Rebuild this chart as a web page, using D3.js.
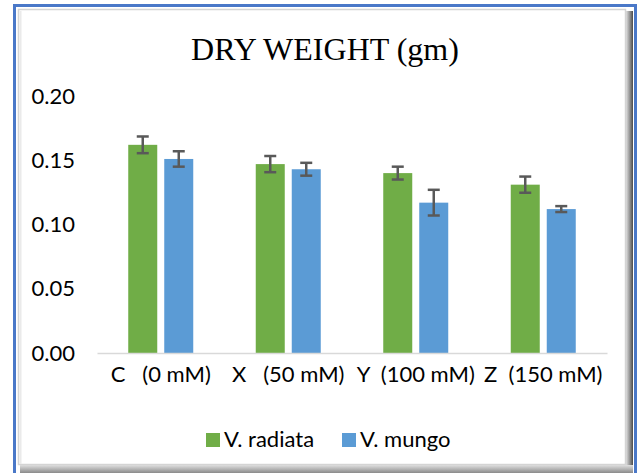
<!DOCTYPE html>
<html><head><meta charset="utf-8">
<script src="https://cdn.jsdelivr.net/npm/d3@7"></script>
<style>body{margin:0;background:#fff}svg{display:block}</style>
</head><body>
<svg id="c" width="638" height="473"></svg>
<script>
const categories = ["C   (0 mM)", "X   (50 mM)", "Y  (100 mM)", "Z  (150 mM)"];
const seriesNames = ["V. radiata", "V. mungo"];
const radiata = [0.162, 0.147, 0.140, 0.131];
const radiataErr = [0.0065, 0.0063, 0.005, 0.0063];
const mungo = [0.151, 0.143, 0.117, 0.112];
const mungoErr = [0.006, 0.005, 0.010, 0.0023];
const yTicks = [0, 0.05, 0.10, 0.15, 0.20];
const colors = ["#70ad47", "#5b9bd5"];

const svg = d3.select("#c");
const W = 638, H = 473;
const sans = "Lato, 'Open Sans', sans-serif";
svg.append("rect").attr("width", W).attr("height", H).attr("fill", "#fff");

// frame
const defs = svg.append("defs");
const gr = defs.append("linearGradient").attr("id", "gR").attr("x1", 0).attr("x2", 1).attr("y1", 0).attr("y2", 0);
gr.append("stop").attr("offset", 0).attr("stop-color", "#e0e0e0");
gr.append("stop").attr("offset", 0.6).attr("stop-color", "#8a8a8a");
gr.append("stop").attr("offset", 1).attr("stop-color", "#4a4a4a");
const gb = defs.append("linearGradient").attr("id", "gB").attr("x1", 0).attr("x2", 0).attr("y1", 0).attr("y2", 1);
gb.append("stop").attr("offset", 0).attr("stop-color", "#e0e0e0");
gb.append("stop").attr("offset", 1).attr("stop-color", "#8a8a8a");
svg.append("rect").attr("x", 626).attr("y", 11).attr("width", 7).attr("height", 462).attr("fill", "url(#gR)");
svg.append("rect").attr("x", 20).attr("y", 465).attr("width", 613).attr("height", 8).attr("fill", "url(#gB)");
svg.append("rect").attr("x", 18.5).attr("y", 9.5).attr("width", 607).attr("height", 455)
  .attr("fill", "#fff").attr("stroke", "#d4d4d4").attr("stroke-width", 1.5);
svg.append("line").attr("x1", 20.5).attr("x2", 20.5).attr("y1", 11).attr("y2", 464).attr("stroke", "#eaeaea").attr("stroke-width", 2);
svg.append("path").attr("d", "M14.5,480 V5.5 H635.5 V480").attr("fill", "none")
  .attr("stroke", "#4a78c8").attr("stroke-width", 3);

const x0 = 97, x1 = 607, y0 = 353, yTop = 96;
const x = d3.scaleBand().domain(categories).range([x0, x1]).paddingInner(0).paddingOuter(0);
const y = d3.scaleLinear().domain([0, 0.20]).range([y0, yTop]);
const barW = 29, gap = 7;

// y axis labels
const yAxis = d3.axisLeft(y).tickValues(yTicks).tickFormat(d3.format(".2f")).tickSize(0).tickPadding(22);
const ya = svg.append("g").attr("transform", `translate(${x0},0)`).call(yAxis);
ya.select(".domain").remove();
ya.selectAll("text").attr("font-family", sans).attr("font-size", 22).attr("fill", "#000");

// bars
const series = [
  {name: seriesNames[0], vals: radiata, err: radiataErr, color: colors[0], off: -gap / 2 - barW},
  {name: seriesNames[1], vals: mungo, err: mungoErr, color: colors[1], off: gap / 2}
];
series.forEach(s => {
  const g = svg.append("g");
  g.selectAll("rect").data(categories).join("rect")
    .attr("x", c => x(c) + x.bandwidth() / 2 + s.off)
    .attr("y", (c, i) => y(s.vals[i]))
    .attr("width", barW)
    .attr("height", (c, i) => y0 - y(s.vals[i]))
    .attr("fill", s.color);
});
// axis line
const xa = svg.append("g").attr("transform", `translate(0,${y0})`)
  .call(d3.axisBottom(x).tickSize(0).tickPadding(13));
xa.select(".domain").attr("stroke", "#d9d9d9").attr("stroke-width", 1.5);
xa.selectAll("text").attr("font-family", sans).attr("font-size", 22)
  .attr("fill", "#000").style("white-space", "pre");

// error bars
series.forEach(s => {
  const g = svg.append("g").attr("stroke", "#595959").attr("stroke-width", 2.5).attr("fill", "none");
  categories.forEach((c, i) => {
    const cx = x(c) + x.bandwidth() / 2 + s.off + barW / 2;
    const yt = y(s.vals[i] + s.err[i]), yb = y(s.vals[i] - s.err[i]);
    g.append("line").attr("x1", cx).attr("x2", cx).attr("y1", yt).attr("y2", yb);
    g.append("line").attr("x1", cx - 6).attr("x2", cx + 6).attr("y1", yt).attr("y2", yt);
    g.append("line").attr("x1", cx - 6).attr("x2", cx + 6).attr("y1", yb).attr("y2", yb);
  });
});

// title
svg.append("text").attr("x", 325).attr("y", 60).attr("text-anchor", "middle")
  .attr("font-family", "'Liberation Serif', 'Times New Roman', serif").attr("font-size", 32)
  .attr("fill", "#000").text("DRY WEIGHT (gm)");

// legend
const lg = svg.append("g").attr("font-family", sans).attr("font-size", 22);
const legX = [206, 342];
series.forEach((s, i) => {
  lg.append("rect").attr("x", legX[i]).attr("y", 433).attr("width", 14).attr("height", 14).attr("fill", s.color);
  lg.append("text").attr("x", legX[i] + 18).attr("y", 447).text(s.name);
});
</script>
</body></html>
